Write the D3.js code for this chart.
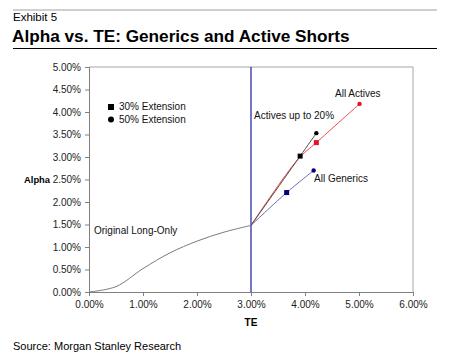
<!DOCTYPE html>
<html>
<head>
<meta charset="utf-8">
<script src="https://cdn.jsdelivr.net/npm/d3@7"></script>
<style>
  body { margin: 0; background: #fff; }
  svg { font-family: "Liberation Sans", Arial, sans-serif; }
</style>
</head>
<body>
<div id="chart"></div>
<script>
// Chart data (TE %, Alpha %)
const xTicks = [0, 1, 2, 3, 4, 5, 6];
const yTicks = [0, 0.5, 1, 1.5, 2, 2.5, 3, 3.5, 4, 4.5, 5];

const longOnly = [[0, 0], [0.5, 0.12], [1.0, 0.52], [1.5, 0.87], [2.0, 1.13], [2.5, 1.33], [3.0, 1.48]];
const activesUpTo20 = [[3.0, 1.48], [3.91, 3.02], [4.21, 3.53]];
const allActives = [[3.0, 1.48], [3.87, 2.95], [4.21, 3.32], [5.01, 4.18]];
const allGenerics = [[3.0, 1.48], [3.66, 2.21], [4.16, 2.70]];
const vLineTE = 3.0;

const width = 450, height = 361;
const margin = { left: 89, right: 37, top: 67, bottom: 69 };

const svg = d3.select('#chart').append('svg')
  .attr('width', width)
  .attr('height', height);

// Header
svg.append('line').attr('x1', 13).attr('x2', 437).attr('y1', 10).attr('y2', 10)
  .attr('stroke', '#a0a0a0').attr('stroke-width', 1);
svg.append('text').attr('x', 13).attr('y', 21).attr('font-size', 11.5).attr('fill', '#000').text('Exhibit 5');
svg.append('text').attr('x', 12).attr('y', 42).attr('font-size', 17.2).attr('font-weight', 'bold').attr('fill', '#000')
  .text('Alpha vs. TE: Generics and Active Shorts');
svg.append('line').attr('x1', 13).attr('x2', 437).attr('y1', 48.5).attr('y2', 48.5)
  .attr('stroke', '#000').attr('stroke-width', 1);
svg.append('text').attr('x', 13).attr('y', 350).attr('font-size', 11).attr('fill', '#000')
  .text('Source: Morgan Stanley Research');

const x = d3.scaleLinear().domain([0, 6]).range([margin.left, width - margin.right]);
const y = d3.scaleLinear().domain([0, 5]).range([height - margin.bottom, margin.top]);

// Plot border (top/right)
svg.append('path')
  .attr('d', `M${x(0)},${y(5)}H${x(6)}V${y(0)}`)
  .attr('fill', 'none').attr('stroke', '#a6a6a6').attr('stroke-width', 1);

// Axes
const fmt = d => d.toFixed(2) + '%';
const xAxis = svg.append('g')
  .attr('transform', `translate(0,${y(0)})`)
  .call(d3.axisBottom(x).tickValues(xTicks).tickFormat(fmt).tickSize(4).tickPadding(5));
const yAxis = svg.append('g')
  .attr('transform', `translate(${x(0)},0)`)
  .call(d3.axisLeft(y).tickValues(yTicks).tickFormat(fmt).tickSize(4).tickPadding(4));
[xAxis, yAxis].forEach(a => {
  a.select('.domain').attr('stroke', '#808080');
  a.selectAll('.tick line').attr('stroke', '#808080');
  a.selectAll('.tick text').attr('font-size', 10).attr('fill', '#222')
    .attr('font-family', '"Liberation Sans", Arial, sans-serif');
});

svg.append('text').attr('x', 24).attr('y', y(2.5) + 3.5).attr('font-size', 9.4).attr('font-weight', 'bold').text('Alpha');
svg.append('text').attr('x', x(3)).attr('y', 326).attr('text-anchor', 'middle')
  .attr('font-size', 10).attr('font-weight', 'bold').text('TE');

// Vertical line at 3% TE
svg.append('line')
  .attr('x1', x(vLineTE)).attr('x2', x(vLineTE)).attr('y1', y(5)).attr('y2', y(0))
  .attr('stroke', '#1a1aa0').attr('stroke-width', 1.2);

// Series lines
const smooth = d3.line().x(d => x(d[0])).y(d => y(d[1])).curve(d3.curveCatmullRom);
svg.append('path').datum(longOnly).attr('d', smooth)
  .attr('fill', 'none').attr('stroke', '#7a7a7a').attr('stroke-width', 1);

svg.append('path').datum(allGenerics).attr('d', smooth)
  .attr('fill', 'none').attr('stroke', '#6a6aa8').attr('stroke-width', 1);
svg.append('path').datum(allActives).attr('d', smooth)
  .attr('fill', 'none').attr('stroke', '#f04a4a').attr('stroke-width', 1);
svg.append('path').datum(activesUpTo20).attr('d', smooth)
  .attr('fill', 'none').attr('stroke', '#5a4a4a').attr('stroke-width', 1);

// Markers: square = 30% extension, circle = 50% extension
function markers(data, color) {
  const sq = data[data.length - 2], ci = data[data.length - 1];
  svg.append('rect').attr('x', x(sq[0]) - 2.5).attr('y', y(sq[1]) - 2.5)
    .attr('width', 5).attr('height', 5).attr('fill', color);
  svg.append('circle').attr('cx', x(ci[0])).attr('cy', y(ci[1])).attr('r', 2.2).attr('fill', color);
}
markers(activesUpTo20, '#000');
markers(allActives, '#e8102a');
markers(allGenerics, '#000080');

// Series labels
const lbl = (tx, ty, s) => svg.append('text').attr('x', tx).attr('y', ty).attr('font-size', 10).attr('fill', '#111').text(s);
lbl(335, 97, 'All Actives');
lbl(254, 119, 'Actives up to 20%');
lbl(314, 182, 'All Generics');
lbl(94, 234, 'Original  Long-Only');

// Legend
svg.append('rect').attr('x', 108).attr('y', 104).attr('width', 6).attr('height', 6).attr('fill', '#000');
svg.append('circle').attr('cx', 111).attr('cy', 119.5).attr('r', 3).attr('fill', '#000');
lbl(119, 110, '30% Extension');
lbl(119, 123, '50% Extension');
</script>
</body>
</html>
